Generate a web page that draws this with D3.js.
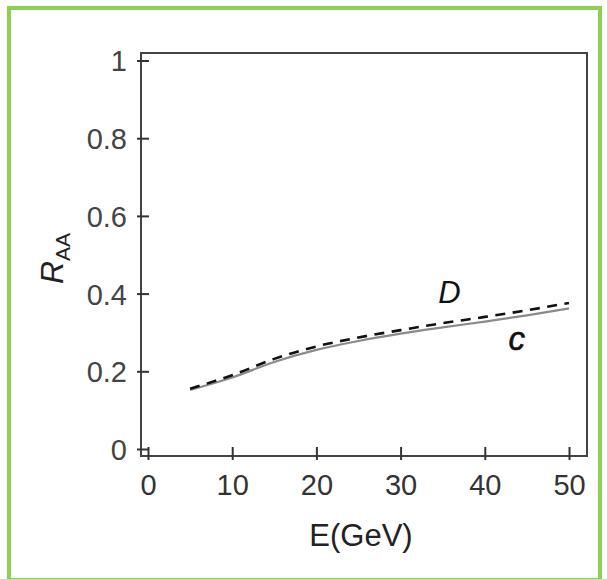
<!DOCTYPE html>
<html>
<head>
<meta charset="utf-8">
<script src="https://cdn.jsdelivr.net/npm/d3@7"></script>
<style>
  body { margin: 0; background: #fff; }
  svg { display: block; }
  text { font-family: "Liberation Sans", Arial, sans-serif; }
</style>
</head>
<body>
<div id="chart"></div>
<script>
// energy in GeV
var energy = [5, 10, 15, 20, 25, 30, 35, 40, 45, 50];
// R_AA for the D meson (dashed) and the charm quark c (solid)
var raa_D = [0.155, 0.190, 0.232, 0.264, 0.287, 0.306, 0.324, 0.340, 0.357, 0.376];
var raa_c = [0.152, 0.184, 0.224, 0.255, 0.278, 0.297, 0.313, 0.328, 0.344, 0.362];

var x_ticks = [0, 10, 20, 30, 40, 50];
var y_ticks = [0, 0.2, 0.4, 0.6, 0.8, 1];
var y_tick_labels = ['0', '0.2', '0.4', '0.6', '0.8', '1'];

var width  = 607;
var height = 579;

// frame of the plot
var frame = { left: 141, right: 587, top: 53, bottom: 456 };

var x_scale = d3.scaleLinear()
                .domain([0, 50])
                .range([148, 569]);
var y_scale = d3.scaleLinear()
                .domain([0, 1])
                .range([449, 60.5]);

var svg = d3.select('#chart')
            .append('svg')
            .attr('width', width)
            .attr('height', height);

// green border round the picture (bottom edge is nearly cut off)
svg.append('rect')
   .attr('x', 9)
   .attr('y', 8)
   .attr('width', 591)
   .attr('height', 572)
   .attr('fill', 'none')
   .attr('stroke', '#8fd053')
   .attr('stroke-width', 4);

// plot frame
svg.append('rect')
   .attr('x', frame.left)
   .attr('y', frame.top)
   .attr('width', frame.right - frame.left)
   .attr('height', frame.bottom - frame.top)
   .attr('fill', 'none')
   .attr('stroke', '#444')
   .attr('stroke-width', 2);

// x axis, ticks cross the frame line
var x_axis = d3.axisBottom(x_scale)
               .tickValues(x_ticks)
               .tickSize(0)
               .tickPadding(0);
var gx = svg.append('g')
            .attr('transform', 'translate(0,' + frame.bottom + ')')
            .call(x_axis);
gx.select('.domain').remove();
gx.selectAll('.tick line')
  .attr('y1', -9)
  .attr('y2', 4)
  .attr('stroke', '#333')
  .attr('stroke-width', 2);
gx.selectAll('.tick text')
  .attr('y', 39)
  .attr('dy', 0)
  .attr('fill', '#333')
  .style('font-size', '29px');

// y axis
var y_axis = d3.axisLeft(y_scale)
               .tickValues(y_ticks)
               .tickFormat(function(d, i) { return y_tick_labels[i]; })
               .tickSize(0)
               .tickPadding(0);
var gy = svg.append('g')
            .attr('transform', 'translate(' + frame.left + ',0)')
            .call(y_axis);
gy.select('.domain').remove();
gy.selectAll('.tick line')
  .attr('x1', -4)
  .attr('x2', 8)
  .attr('stroke', '#333')
  .attr('stroke-width', 2);
gy.selectAll('.tick text')
  .attr('x', -14)
  .attr('dy', '0.36em')
  .attr('fill', '#444')
  .style('font-size', '29px');

// curves
var line_c = d3.line()
               .x(function(d, i) { return x_scale(energy[i]); })
               .y(function(d) { return y_scale(d); })
               .curve(d3.curveMonotoneX);

svg.append('path')
   .datum(raa_c)
   .attr('d', line_c)
   .attr('fill', 'none')
   .attr('stroke', '#8a8a8a')
   .attr('stroke-width', 2.2);

svg.append('path')
   .datum(raa_D)
   .attr('d', line_c)
   .attr('fill', 'none')
   .attr('stroke', '#111')
   .attr('stroke-width', 2.6)
   .attr('stroke-dasharray', '10,7.5');

// curve labels
svg.append('text')
   .attr('x', x_scale(35.8))
   .attr('y', y_scale(0.375))
   .attr('text-anchor', 'middle')
   .attr('font-style', 'italic')
   .attr('fill', '#111')
   .style('font-size', '31px')
   .text('D');

svg.append('text')
   .attr('x', x_scale(43.8))
   .attr('y', y_scale(0.256))
   .attr('text-anchor', 'middle')
   .attr('font-style', 'italic')
   .attr('fill', '#111')
   .attr('stroke', '#111')
   .attr('stroke-width', 0.6)
   .style('font-size', '33px')
   .text('c');

// axis titles
svg.append('text')
   .attr('x', 361)
   .attr('y', 546)
   .attr('text-anchor', 'middle')
   .attr('fill', '#222')
   .style('font-size', '31px')
   .text('E(GeV)');

var ylab = svg.append('text')
              .attr('transform', 'translate(63,284) rotate(-90)')
              .attr('fill', '#222');
ylab.append('tspan')
    .attr('font-style', 'italic')
    .style('font-size', '32px')
    .text('R');
ylab.append('tspan')
    .attr('dy', 7)
    .style('font-size', '21px')
    .text('AA');
</script>
</body>
</html>
